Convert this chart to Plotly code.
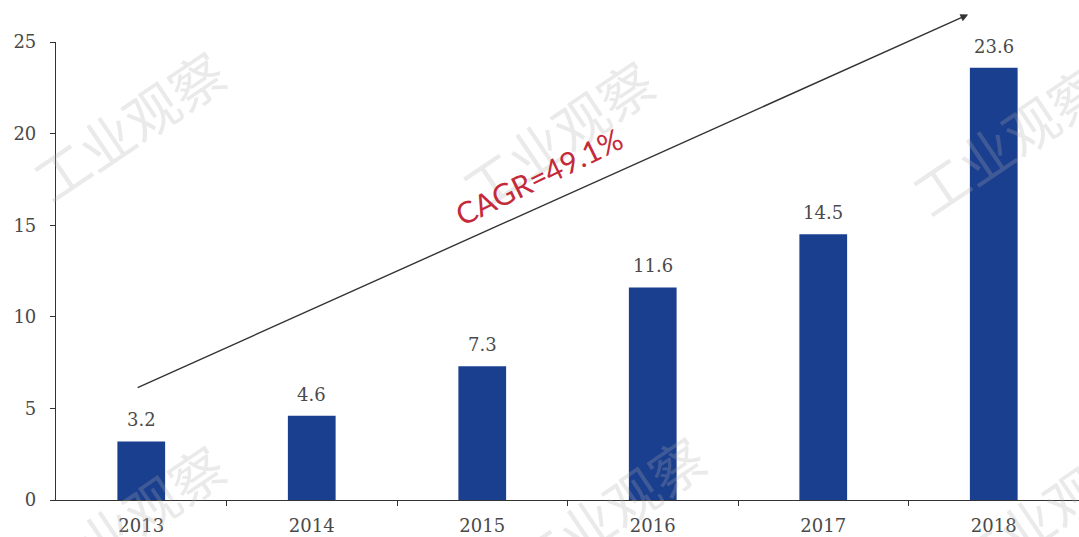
import plotly.graph_objects as go

# Market size by year
years = ["2013", "2014", "2015", "2016", "2017", "2018"]
values = [3.2, 4.6, 7.3, 11.6, 14.5, 23.6]
y_ticks = [0, 5, 10, 15, 20, 25]
cagr_label = "CAGR=49.1%"
watermark = "工业观察"

BAR_COLOR = "#1B3F8F"
TEXT_GRAY = "#4A4A4A"
AXIS_COLOR = "#333333"
SERIF = "DejaVu Serif, Liberation Serif, serif"

idx = list(range(len(years)))
boundaries = [i + 0.5 for i in idx[:-1]]

fig = go.Figure()

fig.add_trace(go.Bar(
    x=idx,
    y=values,
    marker=dict(color=BAR_COLOR, line=dict(width=0)),
    width=0.28,
    text=[f"{v:.1f}" for v in values],
    hovertemplate="%{text}<extra></extra>",
    textposition="none",
))

# Value labels above each bar
for i, v in zip(idx, values):
    fig.add_annotation(
        x=i, y=v, xref="x", yref="y",
        text=f"{v:.1f}",
        showarrow=False,
        yanchor="bottom",
        yshift=9,
        font=dict(family=SERIF, size=18, color=TEXT_GRAY),
    )

# Faint repeated watermark
wm_positions = [
    (0.07, 0.82), (0.49, 0.80), (0.93, 0.79),
    (0.07, -0.04), (0.54, -0.02), (0.97, -0.02),
]
for px, py in wm_positions:
    fig.add_annotation(
        x=px, y=py, xref="paper", yref="paper",
        xanchor="center", yanchor="middle",
        text=watermark,
        showarrow=False,
        textangle=-34,
        font=dict(family="Noto Sans CJK SC", size=54, color="rgba(170,170,170,0.25)"),
    )

# Growth arrow across the bars
fig.add_annotation(
    x=4.85, y=26.5, xref="x", yref="y",
    ax=-0.03, ay=6.1, axref="x", ayref="y",
    showarrow=True,
    arrowhead=2, arrowsize=1.1, arrowwidth=1.4,
    arrowcolor="#333333",
    text="",
)

fig.add_annotation(
    x=2.33, y=17.7, xref="x", yref="y",
    xanchor="center", yanchor="middle",
    text=cagr_label,
    showarrow=False,
    textangle=-26,
    font=dict(family="Lato, Open Sans, sans-serif", size=30, color="#C42A3A"),
)

fig.update_layout(
    width=1079, height=537,
    margin=dict(l=56, r=0, t=42, b=37),
    paper_bgcolor="white",
    plot_bgcolor="white",
    showlegend=False,
    xaxis=dict(
        range=[-0.5, len(years) - 0.5],
        tickvals=idx,
        ticktext=years,
        ticks="",
        showgrid=False,
        showline=True, linecolor=AXIS_COLOR, linewidth=1.2,
        tickfont=dict(family=SERIF, size=18, color=TEXT_GRAY),
        ticklabelstandoff=9,
        zeroline=False,
        minor=dict(tickvals=boundaries, ticks="outside", ticklen=5,
                   tickcolor=AXIS_COLOR, showgrid=False),
    ),
    yaxis=dict(
        range=[0, 25],
        tickvals=y_ticks,
        showgrid=False,
        showline=True, linecolor=AXIS_COLOR, linewidth=1.2,
        ticks="outside", ticklen=5, tickcolor=AXIS_COLOR,
        tickfont=dict(family=SERIF, size=18, color=TEXT_GRAY),
        ticklabelstandoff=10,
        zeroline=False,
    ),
)

fig.write_html("out.html")
